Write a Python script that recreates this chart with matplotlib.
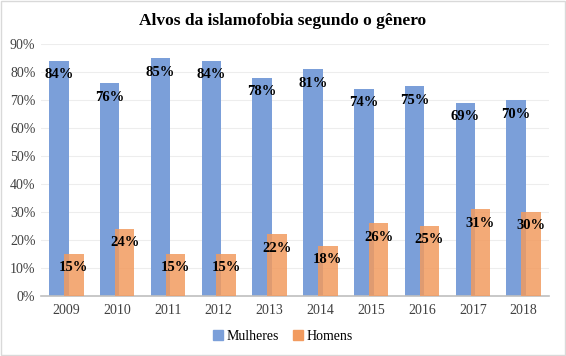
import matplotlib
matplotlib.use("Agg")
import matplotlib.pyplot as plt
import numpy as np
from matplotlib.patches import Rectangle

years = ["2009", "2010", "2011", "2012", "2013", "2014", "2015", "2016", "2017", "2018"]
mulheres = [84, 76, 85, 84, 78, 81, 74, 75, 69, 70]
homens = [15, 24, 15, 15, 22, 18, 26, 25, 31, 30]
title = "Alvos da islamofobia segundo o gênero"
yticks = [0, 10, 20, 30, 40, 50, 60, 70, 80, 90]

plt.rcParams['font.family'] = ['Liberation Serif', 'DejaVu Serif']

fig = plt.figure(figsize=(5.66, 3.56), dpi=100)
ax = fig.add_axes([0.0724, 0.1685, 0.8976, 0.7075])

x = np.arange(len(years))
w = 0.385
off = 0.147
blue = "#7B9FD9"
orange = "#F29B5F"
ax.bar(x - off, mulheres, width=w, color=blue, zorder=2)
ax.bar(x + off, homens, width=w, color=orange, alpha=0.85, zorder=3)

for xi, v in zip(x, mulheres):
    ax.annotate(f"{v}%", (xi - off, v), xytext=(0, -10), textcoords="offset points",
                ha="center", va="center", fontsize=10.5, fontweight="bold", color="black", zorder=5)
for xi, v in zip(x, homens):
    ax.annotate(f"{v}%", (xi + off, v), xytext=(0, -10), textcoords="offset points",
                ha="center", va="center", fontsize=10.5, fontweight="bold", color="black", zorder=5)

ax.set_xlim(-0.5, len(years) - 0.5)
ax.set_ylim(0, 90)
ax.set_yticks(yticks)
ax.set_yticklabels([f"{t}%" for t in yticks], fontsize=10, color="#404040")
ax.set_xticks(x)
ax.set_xticklabels(years, fontsize=10, color="#404040")
ax.tick_params(length=0, pad=6)
ax.tick_params(axis='y', pad=4)
ax.grid(axis='y', color="#EDEDED", linewidth=0.8, zorder=0)
ax.set_axisbelow(True)
for s in ["top", "right", "left"]:
    ax.spines[s].set_visible(False)
ax.spines["bottom"].set_color("#BFBFBF")
ax.spines["bottom"].set_linewidth(1.2)

fig.text(0.5, 0.942, title, ha="center", va="center", fontsize=12.5, fontweight="bold")

handles = [Rectangle((0, 0), 1, 1, color=blue), Rectangle((0, 0), 1, 1, color=orange)]
fig.legend(handles, ["Mulheres", "Homens"], loc="center", bbox_to_anchor=(0.5, 0.055), ncol=2,
           frameon=False, fontsize=10, handlelength=0.7, handleheight=0.7, handletextpad=0.3,
           columnspacing=1.0)

fig.patches.append(Rectangle((0.002, 0.002), 0.996, 0.996, transform=fig.transFigure,
                             fill=False, edgecolor="#D9D9D9", linewidth=1))

fig.savefig("out.png", dpi=100)
